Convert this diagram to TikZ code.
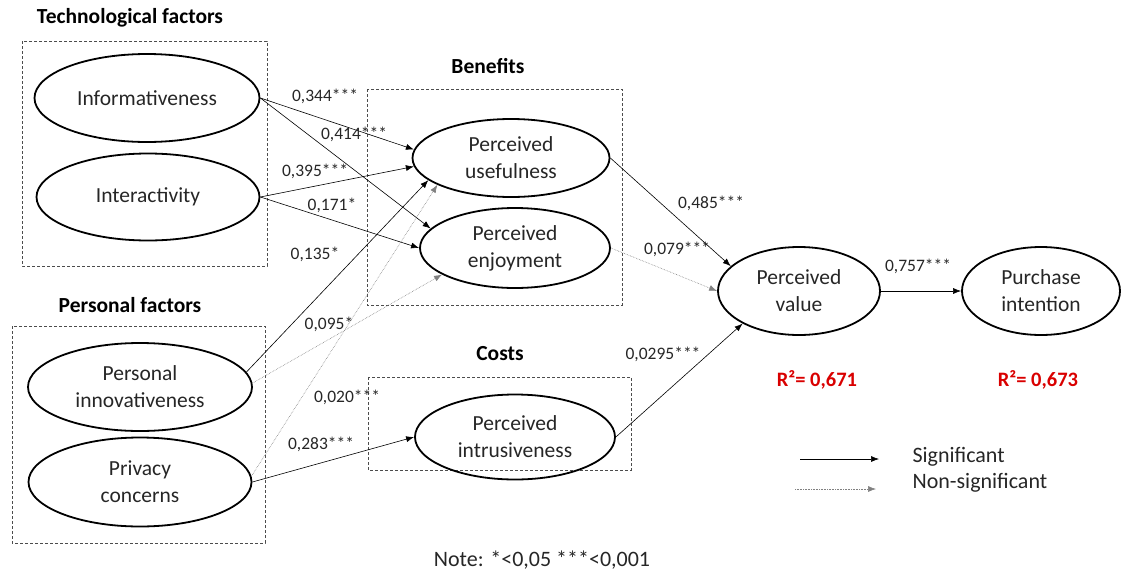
\documentclass[tikz,border=0pt]{standalone}
\usepackage{fontspec}
\setmainfont{Carlito}
\usetikzlibrary{arrows.meta,shapes.geometric}

\begin{document}
\begin{tikzpicture}[x=1pt,y=-1pt,
    latent/.style={ellipse,draw,line width=1.8pt,inner sep=0pt,align=center,
                   text=black!85,font=\fontsize{21.5}{27}\selectfont},
    group/.style={draw=black!70,dash pattern=on 3pt off 2pt,line width=0.7pt},
    title/.style={font=\fontsize{21.5}{24}\selectfont\bfseries},
    coef/.style={font=\fontsize{17.5}{20}\selectfont,text=black!85,inner sep=1pt},
    sig/.style={-{Latex[length=8pt,width=6pt]},line width=0.6pt},
    nonsig/.style={sig,color=black!50,densely dotted},
    rsq/.style={font=\fontsize{20.5}{23}\selectfont\bfseries,text=red!85!black}]

  \useasboundingbox (0,0) rectangle (1124,573);

  %Groups%
  \draw[group] (22,41) rectangle (267,266);
  \draw[group] (12,326) rectangle (265,543);
  \draw[group] (367,89) rectangle (622,305);
  \draw[group] (368,377) rectangle (631,470);
  \node[title] (techT) at (130,18) {Technological factors};
  \node[title] (persT) at (130,305) {Personal factors};
  \node[title] (benT) at (488,66) {Benefits};
  \node[title] (costT) at (500,354) {Costs};

  %Constructs%
  \node[latent,minimum width=225pt,minimum height=88pt] (info) at (147,98) {Informativeness};
  \node[latent,minimum width=223pt,minimum height=87pt] (inter) at (148,197) {Interactivity};
  \node[latent,minimum width=224pt,minimum height=88pt] (innov) at (140,387) {Personal\\innovativeness};
  \node[latent,minimum width=223pt,minimum height=89pt] (priv) at (140,482) {Privacy\\concerns};
  \node[latent,minimum width=197pt,minimum height=78pt] (use) at (511,158) {Perceived\\usefulness};
  \node[latent,minimum width=190pt,minimum height=80pt] (enj) at (515,248) {Perceived\\enjoyment};
  \node[latent,minimum width=200pt,minimum height=85pt] (intr) at (515,437) {Perceived\\intrusiveness};
  \node[latent,minimum width=162pt,minimum height=88pt] (val) at (799,291) {Perceived\\value};
  \node[latent,minimum width=158pt,minimum height=88pt] (pur) at (1041,291) {Purchase\\intention};

  %Paths%
  \path[sig]
    (info.east) edge (use.175)
    (info.east) edge (enj.167)
    (inter.east) edge (use.185)
    (inter.east) edge (enj.west)
    (innov.8) edge (use.195)
    (priv.east) edge (intr.west)
    (use.east) edge (val.160)
    (intr.east) edge (val.210)
    (val) edge (pur);
  \path[nonsig]
    (innov.2) edge (enj.200)
    (priv.3) edge (use.200)
    (enj.east) edge (val.west);

  %Coefficients%
  \node[coef] (c1) at (325,96) {0,344***};
  \node[coef] (c2) at (354,134) {0,414***};
  \node[coef] (c3) at (315,171) {0,395***};
  \node[coef] (c4) at (332,205) {0,171*};
  \node[coef] (c5) at (315,254) {0,135*};
  \node[coef] (c6) at (329,324) {0,095*};
  \node[coef] (c7) at (347,397) {0,020***};
  \node[coef] (c8) at (321,444) {0,283***};
  \node[coef] (c9) at (711,203) {0,485***};
  \node[coef] (c10) at (677,249) {0,079***};
  \node[coef] (c11) at (663,354) {0,0295***};
  \node[coef] (c12) at (918,266) {0,757***};

  \node[rsq] (r1) at (817,380) {R²= 0,671};
  \node[rsq] (r2) at (1038,380) {R²= 0,673};

  %Legend%
  \coordinate (sigA) at (800,459);
  \coordinate (sigB) at (879,459);
  \coordinate (nsA) at (795,489);
  \coordinate (nsB) at (876,489);
  \draw[sig] (sigA) -- (sigB);
  \draw[nonsig] (nsA) -- (nsB);
  \node[anchor=west,font=\fontsize{22}{25}\selectfont,text=black!85] (sigT) at (909,457) {Significant};
  \node[anchor=west,font=\fontsize{22}{25}\selectfont,text=black!85] (nsT) at (909,483) {Non-significant};

  \node[font=\fontsize{22}{25}\selectfont,text=black!85] (note) at (542,560) {Note: *<0,05 ***<0,001};
\end{tikzpicture}
\end{document}
